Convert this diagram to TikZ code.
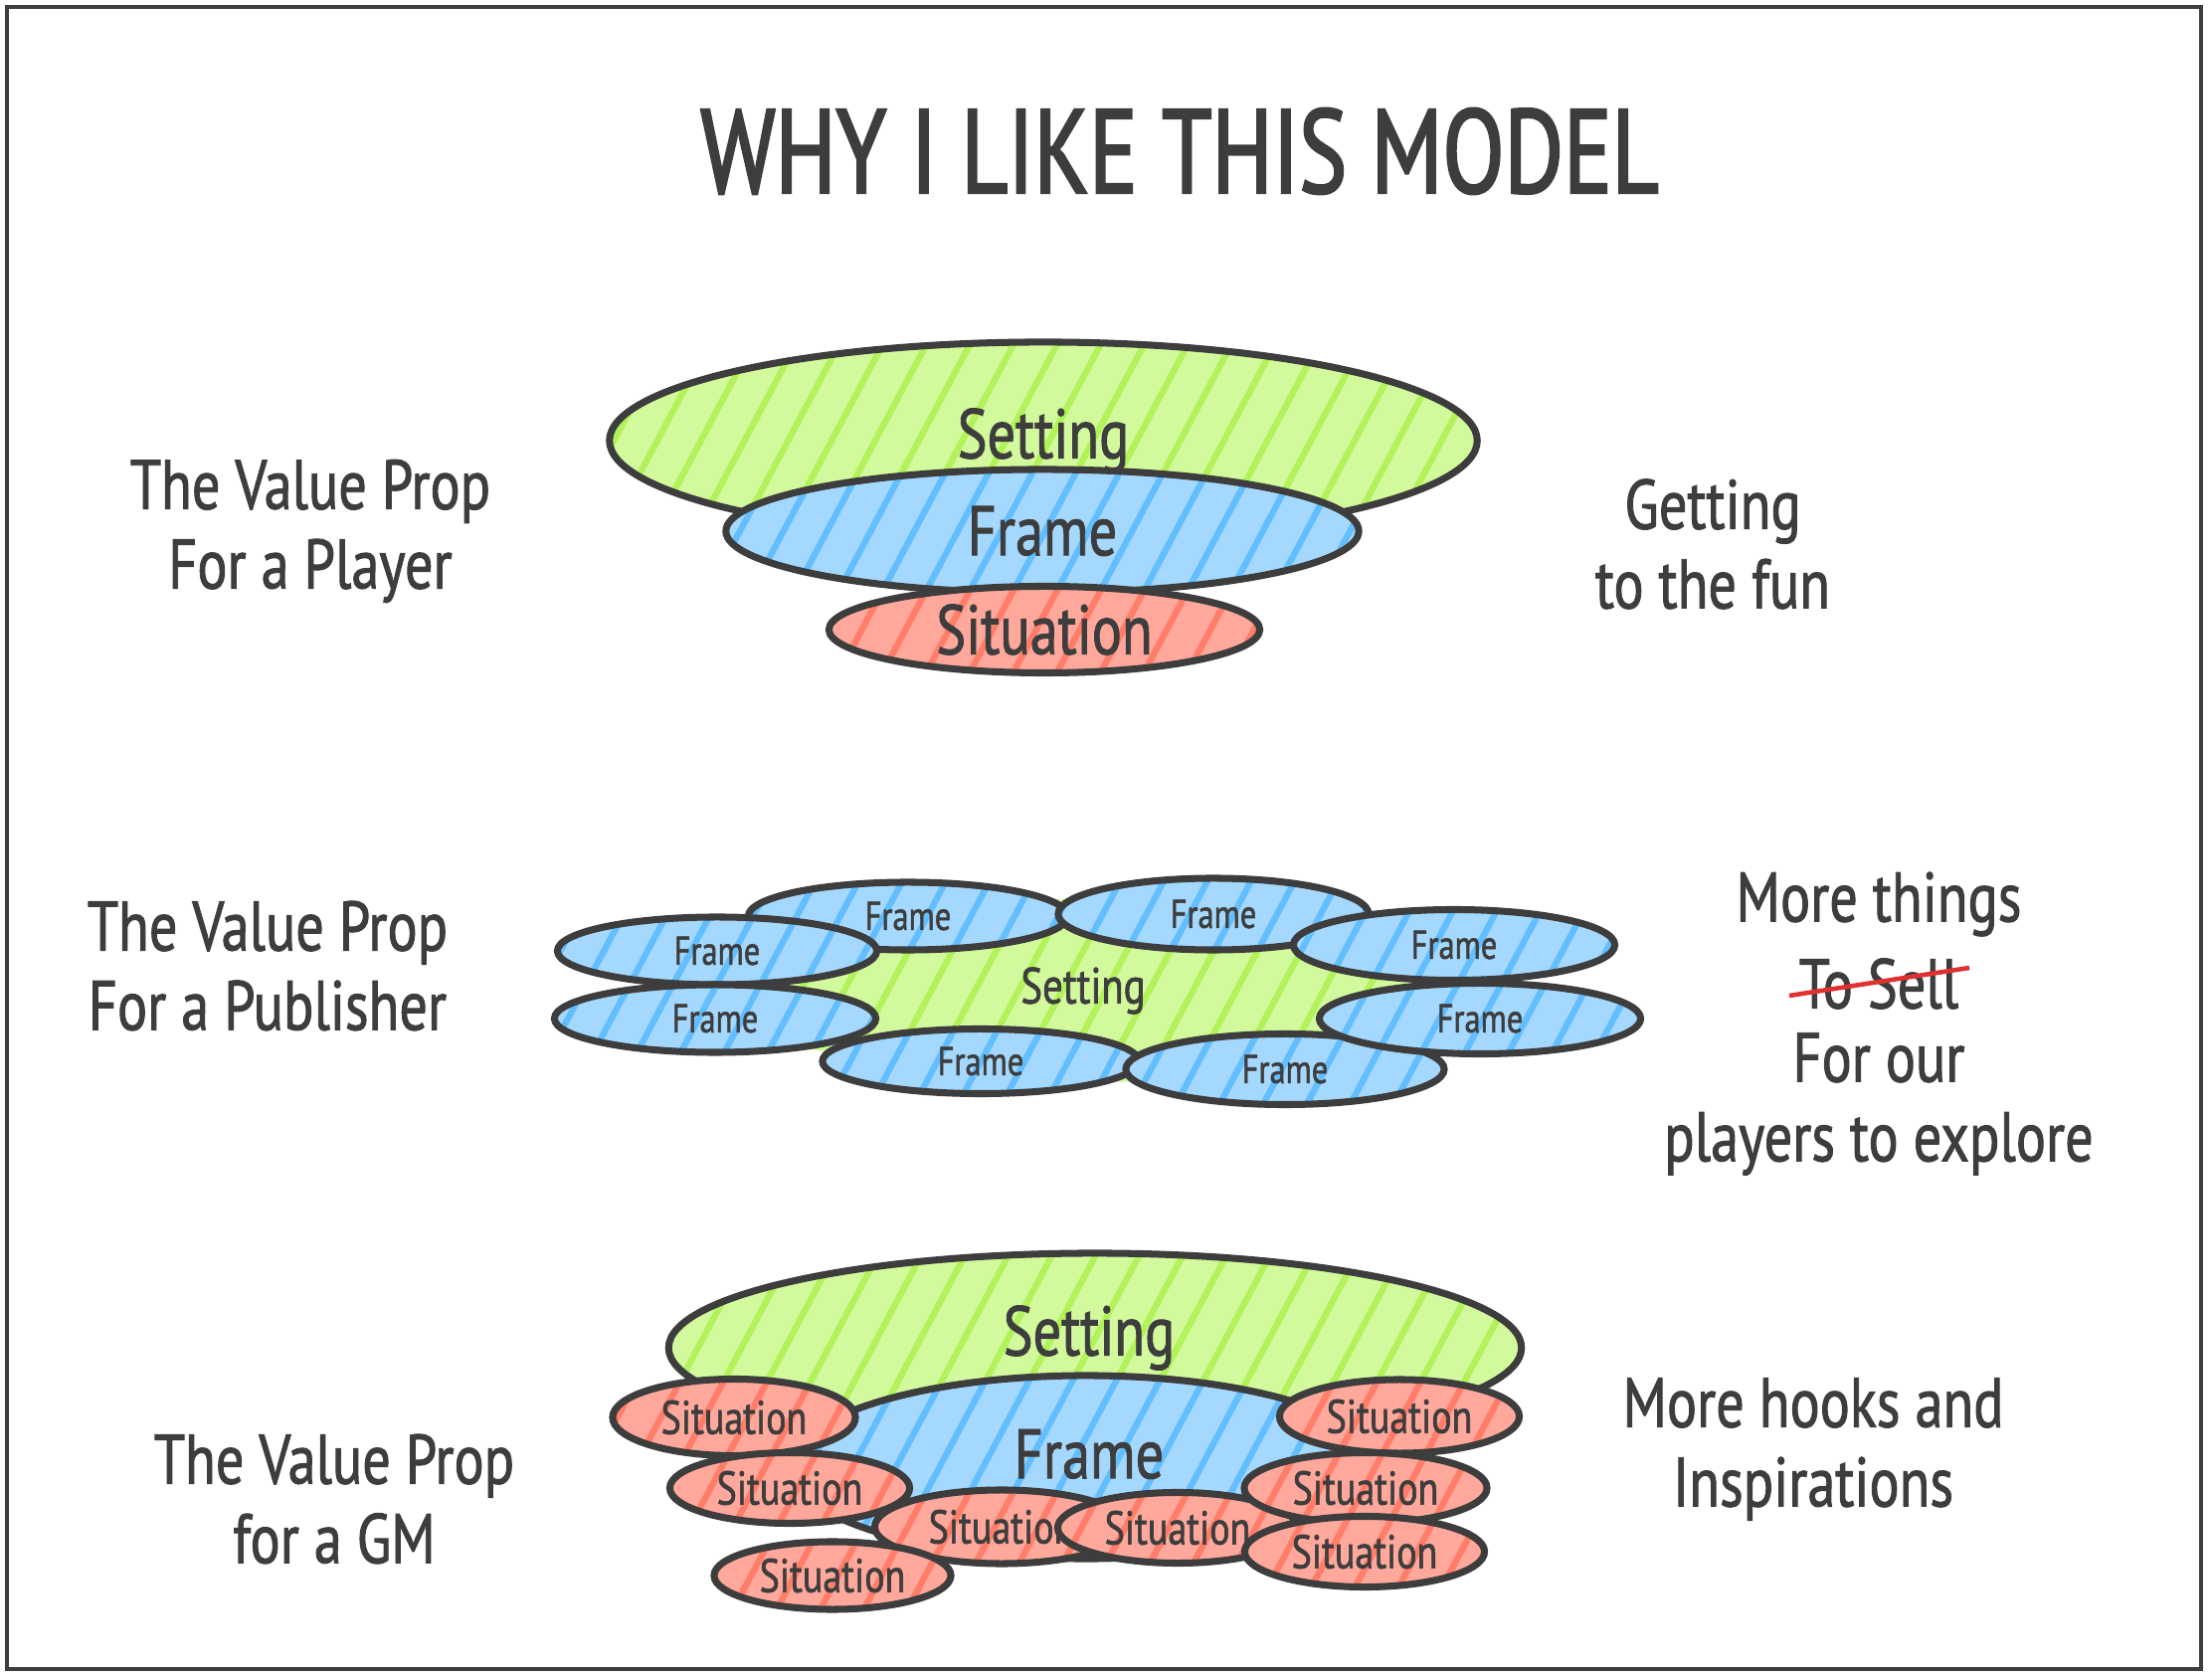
\documentclass[tikz,border=0pt]{standalone}
\usepackage{fontspec}
\setmainfont{PT Sans}[FakeStretch=0.8,FakeBold=1.3]
\newfontfamily\titlefont{PT Sans}[FakeStretch=0.76,FakeBold=2]
\usepackage{xcolor}
\usepackage{tikz}
\usetikzlibrary{shapes.geometric,patterns.meta,positioning}

\definecolor{ink}{HTML}{3D3D3D}
\definecolor{settingfill}{HTML}{D3F99D}
\definecolor{settingline}{HTML}{B2F25A}
\definecolor{framefill}{HTML}{A5D8FF}
\definecolor{frameline}{HTML}{63BEFF}
\definecolor{sitfill}{HTML}{FFA89B}
\definecolor{sitline}{HTML}{FF7D69}
\definecolor{strikered}{HTML}{E03131}

\newcommand\txtL{\fontsize{20}{22.7}\selectfont}
\newcommand\txtM{\fontsize{13.5}{15}\selectfont}
\newcommand\txtS{\fontsize{11.5}{13}\selectfont}
\newcommand\txtSet{\fontsize{14.5}{16}\selectfont}

\tikzset{
    blob/.style={ellipse, draw=ink, line width=2pt, inner sep=0pt, text=ink},
    settingblob/.style={blob, preaction={fill=settingfill},
        pattern={Lines[angle=62,distance=11pt,line width=1.8pt]}, pattern color=settingline},
    frameblob/.style={blob, preaction={fill=framefill},
        pattern={Lines[angle=62,distance=11pt,line width=1.8pt]}, pattern color=frameline},
    sitblob/.style={blob, preaction={fill=sitfill},
        pattern={Lines[angle=62,distance=11pt,line width=1.8pt]}, pattern color=sitline},
    settingpatch/.style={ellipse, inner sep=0pt, text=ink, preaction={fill=settingfill},
        pattern={Lines[angle=62,distance=11pt,line width=1.8pt]}, pattern color=settingline},
    sidetext/.style={text=ink, align=center, font=\txtL},
}

\begin{document}
\begin{tikzpicture}[x=0.01cm,y=-0.01cm]
            \useasboundingbox (0,0) rectangle (2224,1686);
            \draw[ink, line width=1.3pt] (7,7) rectangle (2213,1678);

            \node[text=ink, font=\titlefont\fontsize{34}{38}\selectfont] (title) at (1186,152) {WHY I LIKE THIS MODEL};

            % player: one of each, stacked
            \node[settingblob, minimum width=8.72cm, minimum height=1.98cm, font=\txtL] (setA) at (1049,443) {Setting};
            \node[frameblob, minimum width=6.36cm, minimum height=1.24cm, font=\txtL] (frmA) at (1048,534) {Frame};
            \node[sitblob, minimum width=4.33cm, minimum height=0.87cm, font=\txtL] (sitA) at (1050,633) {Situation};

            \node[sidetext] (playerL) at (312,534) {The Value Prop\\For a Player};
            \node[sidetext] (playerR) at (1722,547) {Getting\\to the fun};

            % publisher: one setting, many frames
            \node[settingpatch, minimum width=7.09cm, minimum height=1.84cm, font=\txtSet] (setB) at (1092,996) {};
            \node[frameblob, minimum width=3.21cm, minimum height=0.68cm, font=\txtS] (frmB1) at (913,921) {Frame};
            \node[frameblob, minimum width=3.12cm, minimum height=0.72cm, font=\txtS] (frmB2) at (1220,919) {Frame};
            \node[frameblob, minimum width=3.23cm, minimum height=0.71cm, font=\txtS] (frmB3) at (1462,950) {Frame};
            \node[frameblob, minimum width=3.21cm, minimum height=0.68cm, font=\txtS] (frmB4) at (721,956) {Frame};
            \node[frameblob, minimum width=3.23cm, minimum height=0.68cm, font=\txtS] (frmB5) at (719,1024) {Frame};
            \node[frameblob, minimum width=3.18cm, minimum height=0.65cm, font=\txtS] (frmB7) at (986,1067) {Frame};
            \node[frameblob, minimum width=3.20cm, minimum height=0.71cm, font=\txtS] (frmB8) at (1292,1075) {Frame};
            \node[frameblob, minimum width=3.23cm, minimum height=0.71cm, font=\txtS] (frmB6) at (1488,1024) {Frame};
            \node[text=ink, font=\txtSet] (setBlabel) at (1089,996) {Setting};

            \node[sidetext] (publisherL) at (269,971) {The Value Prop\\For a Publisher};
            \node[sidetext] (moreA) at (1889,909) {More things};
            \node[sidetext] (sell) at (1889,989) {To Sell};
            \node[sidetext] (moreB) at (1889,1110) {For our\\players to explore};
            \coordinate (strikeA) at (1799,1001);
            \coordinate (strikeB) at (1980,973);
            \draw[strikered, line width=1.3pt] (strikeA) -- (strikeB);

            % gm: one setting, one frame, many situations
            \node[settingblob, minimum width=8.57cm, minimum height=1.90cm, font=\txtL] (setC) at (1101,1355) {};
            \node[text=ink, font=\txtL] (setClabel) at (1095,1345) {Setting};
            \node[frameblob, minimum width=5.96cm, minimum height=1.84cm, font=\txtL] (frmC) at (1092,1475) {};
            \node[text=ink, font=\txtL] (frmClabel) at (1095,1462) {Frame};
            \node[sitblob, minimum width=2.44cm, minimum height=0.77cm, font=\txtM] (sitC1) at (738,1425) {Situation};
            \node[sitblob, minimum width=2.41cm, minimum height=0.71cm, font=\txtM] (sitC2) at (794,1496) {Situation};
            \node[sitblob, minimum width=2.55cm, minimum height=0.74cm, font=\txtM] (sitC3) at (1007,1535) {Situation};
            \node[sitblob, minimum width=2.41cm, minimum height=0.71cm, font=\txtM] (sitC4) at (1184,1536) {Situation};
            \node[sitblob, minimum width=2.38cm, minimum height=0.68cm, font=\txtM] (sitC5) at (837,1584) {Situation};
            \node[sitblob, minimum width=2.41cm, minimum height=0.74cm, font=\txtM] (sitC6) at (1407,1424) {Situation};
            \node[sitblob, minimum width=2.44cm, minimum height=0.71cm, font=\txtM] (sitC7) at (1373,1496) {Situation};
            \node[sitblob, minimum width=2.41cm, minimum height=0.71cm, font=\txtM] (sitC8) at (1372,1560) {Situation};

            \node[sidetext] (gmL) at (336,1507) {The Value Prop\\for a GM};
            \node[sidetext] (gmR) at (1823,1457) {More hooks and\\Inspirations};
\end{tikzpicture}
\end{document}
